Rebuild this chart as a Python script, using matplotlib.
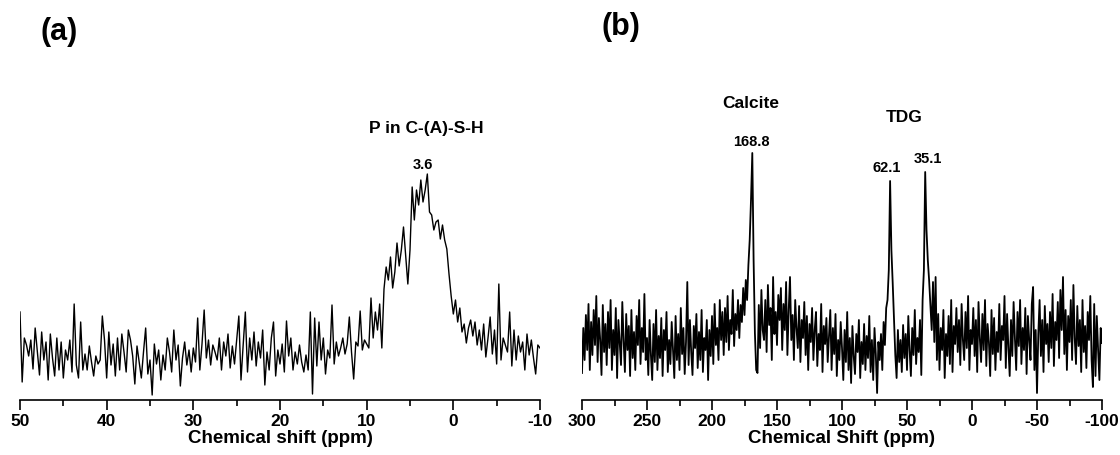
import numpy as np
import matplotlib
matplotlib.use("Agg")
import matplotlib.pyplot as plt
from matplotlib.ticker import MultipleLocator

plt.rcParams['font.family'] = ['Liberation Sans', 'DejaVu Sans']
plt.rcParams['font.weight'] = 'bold'
plt.rcParams['axes.unicode_minus'] = False

# ---------------- Panel (a): 31P-like spectrum, 50 -> -10 ppm, step 0.25 ppm
shift_a_start, shift_a_end = 50.0, -10.0
intensity_a = [
    88, 18, 62, 55, 44, 60, 31, 72, 48, 25,
    68, 40, 58, 20, 66, 42, 24, 62, 30, 58,
    22, 50, 40, 60, 28, 96, 35, 22, 78, 30,
    46, 30, 54, 38, 24, 44, 36, 40, 84, 60,
    22, 68, 35, 56, 24, 62, 30, 66, 48, 28,
    70, 60, 44, 16, 54, 38, 22, 48, 72, 26,
    40, 5, 56, 36, 50, 20, 45, 30, 62, 48,
    28, 70, 40, 55, 14, 42, 58, 35, 50, 28,
    52, 38, 82, 30, 56, 90, 42, 60, 35, 55,
    48, 40, 62, 30, 58, 44, 66, 32, 54, 36,
    60, 84, 20, 55, 88, 28, 62, 40, 68, 34,
    58, 42, 70, 15, 48, 30, 62, 78, 24, 50,
    36, 56, 28, 79, 44, 62, 30, 48, 36, 55,
    38, 28, 45, 30, 88, 6, 82, 34, 78, 40,
    62, 26, 50, 42, 95, 36, 58, 44, 52, 62,
    46, 56, 83, 48, 21, 58, 54, 89, 50, 60,
    56, 52, 102, 62, 88, 70, 96, 52, 111, 133,
    120, 143, 112, 128, 157, 134, 150, 173, 145, 116,
    150, 213, 180, 210, 195, 220, 198, 210, 226, 188,
    185, 170, 178, 180, 161, 175, 160, 151, 126, 104,
    86, 100, 78, 92, 68, 76, 57, 72, 80, 64,
    78, 55, 70, 50, 76, 43, 62, 83, 46, 70,
    36, 116, 40, 62, 55, 48, 88, 34, 70, 40,
    64, 48, 58, 30, 66, 45, 60, 42, 26, 55,
    52,
]
ticks_a = [50, 40, 30, 20, 10, 0, -10]

# ---------------- Panel (b): 13C-like spectrum, 300 -> -100 ppm, step 1 ppm
shift_b_start, shift_b_end = 300.0, -100.0
intensity_b = [
    27, 72, 40, 85, 50, 96, 30, 78, 45, 90,
    55, 104, 38, 82, 60, 25, 95, 48, 76, 35,
    88, 52, 100, 30, 70, 45, 92, 22, 80, 58,
    35, 98, 60, 28, 86, 50, 74, 24, 90, 42,
    68, 30, 84, 55, 100, 36, 72, 48, 106, 40,
    62, 25, 80, 45, 20, 76, 38, 90, 30, 64,
    42, 82, 24, 70, 50, 88, 28, 60, 36, 78,
    50, 22, 84, 40, 66, 30, 92, 46, 72, 26,
    58, 118, 35, 80, 48, 25, 74, 52, 86, 32,
    68, 40, 90, 28, 62, 50, 80, 20, 70, 44,
    84, 36, 96, 55, 72, 40, 100, 60, 88, 45,
    92, 58, 104, 50, 80, 66, 110, 54, 86, 70,
    100, 62, 95, 78, 112, 85, 120, 100, 135, 160,
    200, 247, 140, 67, 30, 27, 95, 52, 110, 70,
    60, 100, 48, 115, 75, 92, 40, 123, 66, 88,
    55, 105, 80, 112, 50, 96, 70, 118, 45, 90,
    123, 60, 85, 40, 100, 72, 52, 94, 38, 80,
    62, 98, 45, 84, 30, 76, 58, 92, 40, 70,
    88, 34, 66, 50, 96, 28, 74, 56, 82, 38,
    64, 90, 30, 72, 46, 86, 24, 60, 40, 78,
    52, 20, 70, 38, 88, 30, 62, 17, 74, 44,
    26, 66, 48, 80, 22, 58, 36, 76, 30, 64,
    42, 84, 28, 60, 20, 72, 46, 7, 58, 40,
    66, 30, 78, 55, 92, 100, 130, 219, 150, 117,
    80, 45, 22, 70, 38, 60, 28, 75, 42, 66,
    30, 84, 50, 24, 72, 45, 90, 36, 62, 48,
    80, 25, 100, 130, 228, 170, 140, 120, 96, 70,
    118, 58, 123, 40, 86, 30, 72, 50, 90, 22,
    66, 44, 84, 36, 100, 28, 74, 56, 92, 48,
    80, 35, 96, 60, 40, 88, 52, 104, 30, 70,
    56, 92, 44, 80, 28, 98, 62, 38, 86, 50,
    100, 34, 76, 58, 24, 90, 46, 82, 30, 68,
    48, 96, 40, 74, 60, 104, 32, 86, 52, 24,
    80, 44, 98, 62, 30, 88, 54, 100, 36, 72,
    50, 92, 26, 84, 60, 40, 96, 113, 30, 70,
    7, 66, 100, 44, 80, 28, 94, 56, 76, 38,
    88, 52, 106, 34, 78, 60, 98, 42, 110, 70,
    123, 46, 90, 30, 84, 58, 100, 40, 115, 62,
    36, 94, 54, 80, 28, 100, 48, 74, 32, 88,
    60, 104, 40, 13, 96, 24, 84, 50, 20, 72,
    57,
]
ticks_b = [300, 250, 200, 150, 100, 50, 0, -50, -100]

shift_a = np.linspace(shift_a_start, shift_a_end, len(intensity_a))
shift_b = np.linspace(shift_b_start, shift_b_end, len(intensity_b))

W, H = 1120, 455
fig = plt.figure(figsize=(W / 100, H / 100), dpi=100)

axis_y = 400
top_y = 60
axA = fig.add_axes([20 / W, (H - axis_y) / H, 520 / W, (axis_y - top_y) / H])
axB = fig.add_axes([582 / W, (H - axis_y) / H, 520 / W, (axis_y - top_y) / H])


def style(ax, x0, x1, major, minor, ticks, xlabel):
    ax.set_xlim(x0, x1)
    ax.set_ylim(0, axis_y - top_y)
    for s in ['left', 'right', 'top']:
        ax.spines[s].set_visible(False)
    ax.spines['bottom'].set_linewidth(1.2)
    ax.set_yticks([])
    ax.set_xticks(ticks)
    ax.set_xticklabels([str(t) for t in ticks])
    ax.xaxis.set_minor_locator(MultipleLocator(minor))
    ax.tick_params(axis='x', which='major', direction='out', length=7, width=1.2,
                   labelsize=12.5, pad=3)
    ax.tick_params(axis='x', which='minor', direction='out', length=4, width=1.2)
    for lab in ax.get_xticklabels():
        lab.set_fontweight('bold')
    ax.set_xlabel(xlabel, fontsize=13.5, fontweight='bold', labelpad=1)
    ax.patch.set_alpha(0)


axA.plot(shift_a, intensity_a, color='black', lw=1.0)
style(axA, 50, -10, 10, 5, ticks_a, 'Chemical shift (ppm)')
axA.text(3.1, 271, 'P in C-(A)-S-H', ha='center', va='center', fontsize=12.5, fontweight='bold')
axA.text(3.5, 235, '3.6', ha='center', va='center', fontsize=10.5, fontweight='bold')

axB.plot(shift_b, intensity_b, color='black', lw=1.3)
style(axB, 300, -100, 50, 25, ticks_b, 'Chemical Shift (ppm)')
axB.text(170, 296, 'Calcite', ha='center', va='center', fontsize=12.5, fontweight='bold')
axB.text(169.5, 258, '168.8', ha='center', va='center', fontsize=10.5, fontweight='bold')
axB.text(52, 283, 'TDG', ha='center', va='center', fontsize=12.5, fontweight='bold')
axB.text(65.5, 232, '62.1', ha='center', va='center', fontsize=10.5, fontweight='bold')
axB.text(34, 241, '35.1', ha='center', va='center', fontsize=10.5, fontweight='bold')

fig.text(59.5 / W, 1 - 32 / H, '(a)', ha='center', va='center', fontsize=22, fontweight='bold')
fig.text(621 / W, 1 - 27 / H, '(b)', ha='center', va='center', fontsize=22, fontweight='bold')

fig.savefig('out.png', dpi=100)
